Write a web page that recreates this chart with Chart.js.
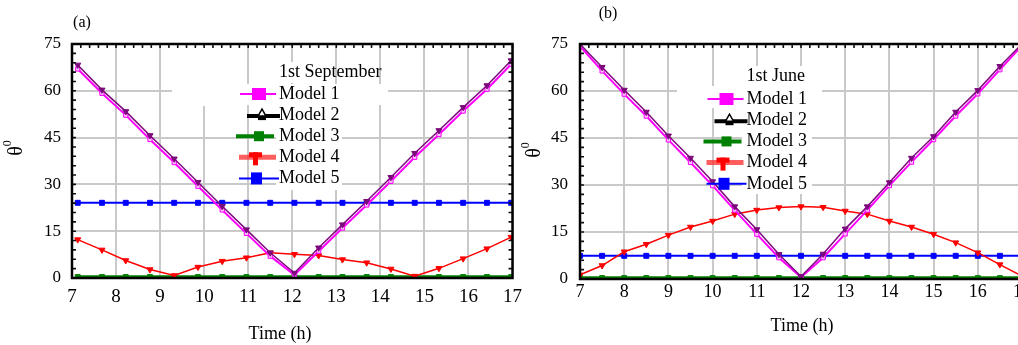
<!DOCTYPE html>
<html><head><meta charset="utf-8">
<script src="https://cdn.jsdelivr.net/npm/chart.js@4.4.1/dist/chart.umd.min.js"></script>
<style>
html,body{margin:0;padding:0;background:#fff;overflow:hidden;width:1018px;height:345px;}
.wrap{position:absolute;top:0;height:345px;width:530px;}
#wa{left:0;}
#wb{left:510px;}
canvas{display:block;}
</style></head><body>
<div class="wrap" id="wa"><canvas id="ca" width="530" height="345"></canvas></div>
<div class="wrap" id="wb"><canvas id="cb" width="530" height="345"></canvas></div>
<script>
// ---- tick labels ----
const xTicks = [7, 8, 9, 10, 11, 12, 13, 14, 15, 16, 17];
const yTicks = [0, 15, 30, 45, 60, 75];
const seriesNames = ['Model 1', 'Model 2', 'Model 3', 'Model 4', 'Model 5'];

// ---- (a) 1st September ----
const timesSep = [7.13, 7.68, 8.22, 8.77, 9.32, 9.86, 10.41, 10.96, 11.5, 12.05, 12.6, 13.14, 13.69, 14.24, 14.78, 15.33, 15.88, 16.42, 16.97];
const sepModel1 = [67.0, 59.2, 52.2, 44.4, 37.0, 29.4, 21.8, 14.3, 7.0, 1.0, 8.6, 16.0, 23.4, 31.0, 38.7, 46.0, 53.5, 60.5, 68.5];
const sepModel2 = [68.3, 60.3, 53.4, 45.7, 38.2, 30.7, 23.0, 15.5, 8.1, 1.6, 9.7, 17.1, 24.6, 32.3, 40.0, 47.3, 54.7, 61.7, 69.7];
const sepModel3 = [0.3, 0.3, 0.3, 0.3, 0.3, 0.3, 0.3, 0.3, 0.3, 0.3, 0.3, 0.3, 0.3, 0.3, 0.3, 0.3, 0.3, 0.3, 0.3];
const sepModel4 = [12.3, 9.0, 5.6, 2.7, 0.8, 3.5, 5.4, 6.5, 8.1, 7.6, 7.2, 5.9, 4.9, 2.9, 0.6, 3.1, 6.2, 9.4, 13.1];
const sepModel5 = [24.1, 24.1, 24.1, 24.1, 24.1, 24.1, 24.1, 24.1, 24.1, 24.1, 24.1, 24.1, 24.1, 24.1, 24.1, 24.1, 24.1, 24.1, 24.1];

// ---- (b) 1st June ----
const timesJun = [7, 7.5, 8, 8.5, 9, 9.5, 10, 10.5, 11, 11.5, 12, 12.5, 13, 13.5, 14, 14.5, 15, 15.5, 16, 16.5, 17];
const junModel1 = [74.3, 66.4, 59.0, 52.0, 44.4, 37.2, 29.8, 22.0, 14.3, 6.8, 0.6, 6.8, 14.4, 22.0, 29.8, 37.3, 44.5, 52.0, 59.1, 66.8, 74.5];
const junModel2 = [75.0, 67.6, 60.3, 53.3, 45.7, 38.6, 31.1, 23.1, 15.8, 7.9, 0.8, 8.0, 16.0, 23.1, 30.8, 38.6, 45.5, 53.3, 60.2, 67.9, 75.0];
const junModel3 = [0.3, 0.3, 0.3, 0.3, 0.3, 0.3, 0.3, 0.3, 0.3, 0.3, 0.3, 0.3, 0.3, 0.3, 0.3, 0.3, 0.3, 0.3, 0.3, 0.3, 0.3];
const junModel4 = [1.3, 4.3, 8.7, 11.1, 14.0, 16.6, 18.5, 20.7, 22.0, 22.8, 23.1, 22.9, 21.7, 20.7, 18.5, 16.6, 14.3, 11.6, 8.4, 4.6, 0.9];
const junModel5 = [7.4, 7.4, 7.4, 7.4, 7.4, 7.4, 7.4, 7.4, 7.4, 7.4, 7.4, 7.4, 7.4, 7.4, 7.4, 7.4, 7.4, 7.4, 7.4, 7.4, 7.4];

const FONT = '"Liberation Serif", "Times New Roman", serif';

const styles = [
  {borderColor:'#ff00ff', borderWidth:2, pointStyle:'rect', pointRadius:3, pointBackgroundColor:'#ffc0ff', pointBorderColor:'#ff00ff', pointBorderWidth:1, order:1},
  {borderColor:'#7d0a7d', borderWidth:1.5, pointStyle:'triangle', rotation:180, pointRadius:3.5, pointBackgroundColor:'#7d0a7d', pointBorderColor:'#7d0a7d', pointBorderWidth:1, order:0},
  {borderColor:'#008000', borderWidth:3.5, pointStyle:'rect', pointRadius:3.5, pointBackgroundColor:'#008000', pointBorderColor:'#008000', pointBorderWidth:1, order:4},
  {borderColor:'#ff0000', borderWidth:1.5, pointStyle:'triangle', rotation:180, pointRadius:3.5, pointBackgroundColor:'#ff0000', pointBorderColor:'#ff0000', pointBorderWidth:1, order:2},
  {borderColor:'#0000ff', borderWidth:2, pointStyle:'rect', pointRadius:3.5, pointBackgroundColor:'#0000ff', pointBorderColor:'#0000ff', pointBorderWidth:1, order:3}
];

function drawLegendSample(ctx, i, tx, y) {
  ctx.save();
  if (i === 0) {
    ctx.strokeStyle = '#ff00ff'; ctx.lineWidth = 2;
    ctx.beginPath(); ctx.moveTo(tx - 39, y); ctx.lineTo(tx - 3, y); ctx.stroke();
    ctx.fillStyle = '#ff00ff'; ctx.fillRect(tx - 27, y - 6, 14, 12);
  } else if (i === 1) {
    ctx.strokeStyle = '#000'; ctx.lineWidth = 4;
    ctx.beginPath(); ctx.moveTo(tx - 32, y + 1); ctx.lineTo(tx + 1, y + 1); ctx.stroke();
    ctx.fillStyle = '#000'; ctx.fillRect(tx - 21, y - 1, 8, 6);
    ctx.beginPath(); ctx.moveTo(tx - 17, y - 6); ctx.lineTo(tx - 21, y + 1); ctx.lineTo(tx - 13, y + 1); ctx.closePath();
    ctx.fillStyle = '#fff'; ctx.fill(); ctx.lineWidth = 1.5; ctx.strokeStyle = '#000'; ctx.stroke();
  } else if (i === 2) {
    ctx.strokeStyle = '#008000'; ctx.lineWidth = 4;
    ctx.beginPath(); ctx.moveTo(tx - 43, y); ctx.lineTo(tx - 5, y); ctx.stroke();
    ctx.fillStyle = '#008000'; ctx.fillRect(tx - 25, y - 5, 10, 10);
  } else if (i === 3) {
    ctx.strokeStyle = 'rgba(255,40,40,0.75)'; ctx.lineWidth = 5;
    ctx.beginPath(); ctx.moveTo(tx - 40, y); ctx.lineTo(tx - 3, y); ctx.stroke();
    ctx.fillStyle = '#ff0000';
    ctx.fillRect(tx - 30, y - 5, 13, 5); ctx.fillRect(tx - 26, y - 5, 5, 13);
  } else {
    ctx.strokeStyle = '#0000ff'; ctx.lineWidth = 2;
    ctx.beginPath(); ctx.moveTo(tx - 40, y); ctx.lineTo(tx, y); ctx.stroke();
    ctx.fillStyle = '#0000ff'; ctx.fillRect(tx - 28, y - 6, 11, 12);
  }
  ctx.restore();
}

const decor = {
  id: 'decor',
  beforeDatasetsDraw(chart, args, o) {
    const ctx = chart.ctx;
    ctx.save();
    ctx.fillStyle = '#fff';
    o.bgs.forEach(r => ctx.fillRect(r[0], r[1], r[2] - r[0], r[3] - r[1]));
    ctx.restore();
  },
  afterDatasetsDraw(chart, args, o) {
    const ctx = chart.ctx, a = chart.chartArea, xs = chart.scales.x, ys = chart.scales.y;
    ctx.save();
    // minor ticks
    ctx.strokeStyle = '#111'; ctx.lineWidth = 1.6;
    ctx.beginPath();
    for (let v = 0; v <= 75.001; v += 3) {
      const y = ys.getPixelForValue(v);
      ctx.moveTo(a.left, y); ctx.lineTo(a.left + 4, y);
      ctx.moveTo(a.right, y); ctx.lineTo(a.right - 4, y);
    }
    for (let t = 7; t <= 17.001; t += 0.2) {
      const x = xs.getPixelForValue(t);
      ctx.moveTo(x, a.top); ctx.lineTo(x, a.top + 4);
    }
    ctx.stroke();
    // frame
    ctx.strokeStyle = '#000'; ctx.lineWidth = 2.5;
    ctx.strokeRect(a.left, a.top, a.right - a.left, a.bottom - a.top);
    // legend
    ctx.fillStyle = '#000';
    ctx.font = '18px ' + FONT;
    ctx.textBaseline = 'middle'; ctx.textAlign = 'left';
    ctx.fillText(o.legendTitle, o.tx, o.titleY);
    seriesNames.forEach((n, i) => {
      const y = o.rowY + i * o.rowDy;
      drawLegendSample(ctx, i, o.tx, y);
      ctx.fillStyle = '#000';
      ctx.fillText(n, o.tx, y);
    });
    ctx.restore();
  },
  afterDraw(chart, args, o) {
    const ctx = chart.ctx;
    ctx.save();
    ctx.fillStyle = '#000';
    ctx.textBaseline = 'middle'; ctx.textAlign = 'center';
    ctx.font = '18px ' + FONT;
    ctx.fillText('Time (h)', o.xTitle[0], o.xTitle[1]);
    ctx.font = '16px ' + FONT;
    ctx.fillText(o.panel, o.panelPos[0], o.panelPos[1]);
    // y title: theta with superscript 0, rotated
    ctx.translate(o.yTitle[0], o.yTitle[1]);
    ctx.rotate(-Math.PI / 2);
    ctx.font = '20px ' + FONT;
    ctx.textAlign = 'left';
    const w = ctx.measureText('θ').width;
    ctx.fillText('θ', -w / 2 - 3, 1);
    ctx.font = '12px ' + FONT;
    ctx.fillText('0', w / 2 - 3, -8);
    ctx.restore();
  }
};

function makeChart(id, times, series, cfg) {
  const datasets = series.map((vals, i) => Object.assign({
    label: seriesNames[i],
    data: times.map((t, j) => ({x: t, y: vals[j]})),
    tension: 0, fill: false, clip: 0
  }, styles[i]));
  return new Chart(document.getElementById(id), {
    type: 'line',
    data: {datasets},
    options: {
      responsive: false, animation: false, devicePixelRatio: 1,
      layout: {padding: {top: cfg.top, right: cfg.right, left: 0, bottom: 0}},
      plugins: {legend: {display: false}, tooltip: {enabled: false}, decor: cfg.decor},
      scales: {
        x: {
          type: 'linear', min: 7, max: 17,
          afterBuildTicks: s => { s.ticks = xTicks.map(v => ({value: v})); },
          afterFit: s => { s.height = 345 - cfg.bottom; },
          ticks: {color: '#000', font: {family: FONT, size: cfg.xFont}, padding: cfg.xPad, maxRotation: 0, autoSkip: false},
          grid: {color: '#c9c9c9', lineWidth: 2, drawTicks: false},
          border: {display: false}
        },
        y: {
          type: 'linear', min: 0, max: 75,
          afterBuildTicks: s => { s.ticks = yTicks.map(v => ({value: v})); },
          afterFit: s => { s.width = cfg.left; },
          ticks: {color: '#000', font: {family: FONT, size: 17}, padding: cfg.yPad},
          grid: {color: '#c9c9c9', lineWidth: 2, drawTicks: false},
          border: {display: false}
        }
      }
    },
    plugins: [decor]
  });
}

makeChart('ca', timesSep, [sepModel1, sepModel2, sepModel3, sepModel4, sepModel5], {
  top: 44, bottom: 278, left: 72, right: 14, xPad: 8, yPad: 11, xFont: 19,
  decor: {
    legendTitle: '1st September', tx: 279, titleY: 72, rowY: 94, rowDy: 21.1,
    bgs: [[190, 46, 230, 106], [172, 84, 388, 105], [276, 62, 330, 83], [276, 105, 342, 190]],
    xTitle: [280, 334], yTitle: [16, 148], panel: '(a)', panelPos: [82, 23]
  }
});
makeChart('cb', timesJun, [junModel1, junModel2, junModel3, junModel4, junModel5], {
  top: 44, bottom: 279, left: 70, right: 18, xPad: 2, yPad: 12, xFont: 18,
  decor: {
    legendTitle: '1st June', tx: 236.5, titleY: 76, rowY: 99, rowDy: 21.2,
    bgs: [[167, 86, 312, 108], [234, 66, 298, 86], [232, 108, 302, 194]],
    xTitle: [292, 326], yTitle: [24, 150], panel: '(b)', panelPos: [98, 14]
  }
});
</script>
</body></html>
